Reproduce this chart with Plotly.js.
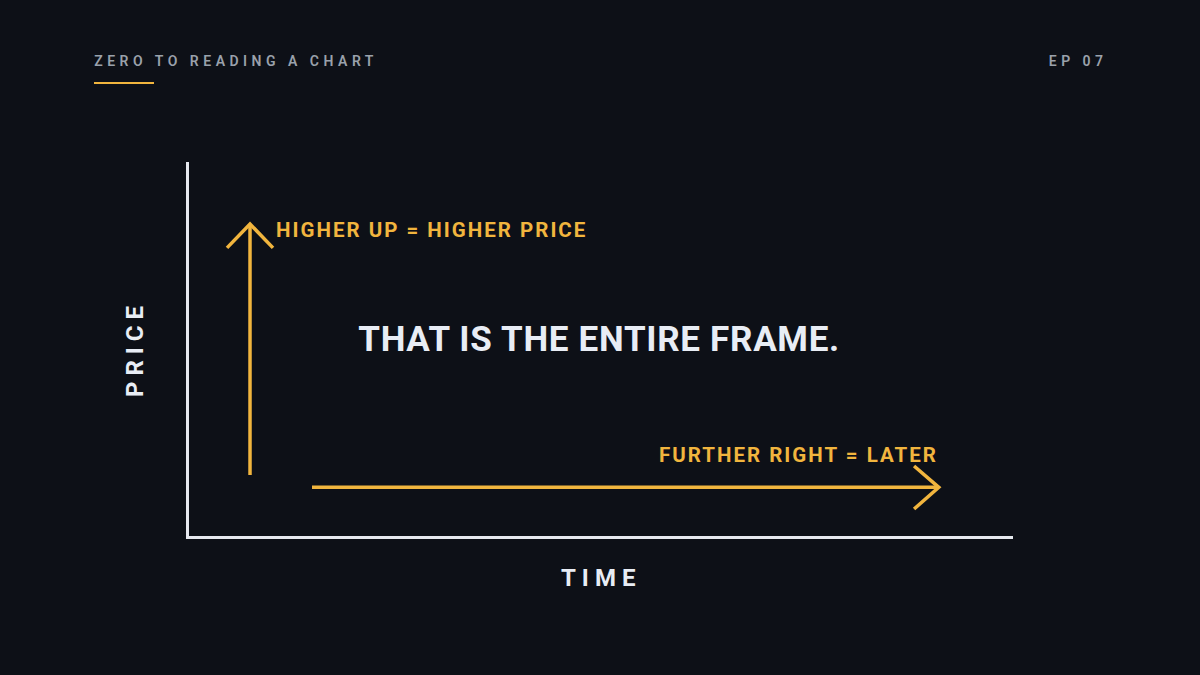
<!DOCTYPE html>
<html>
<head>
<meta charset="utf-8">
<script src="https://cdn.plot.ly/plotly-3.0.1.min.js"></script>
<style>
  html, body { margin: 0; padding: 0; background: #0d1017; }
  #chart { width: 1200px; height: 675px; }
  .annotation[data-index="0"] text, .annotation[data-index="1"] text { letter-spacing: 4.5px; }
  .annotation[data-index="2"] text, .annotation[data-index="3"] text { letter-spacing: 2px; }
  .annotation[data-index="4"] text { letter-spacing: 0.7px; }
  .annotation[data-index="5"] text, .annotation[data-index="6"] text { letter-spacing: 6px; }
</style>
</head>
<body>
<div id="chart"></div>
<script>
// frame runs 0..100 on both axes (time across, price up)
var upArrowX = [7.46, 7.46];
var upArrowY = [16.2, 83.4];
var upHeadX = [4.67, 7.46, 10.25];
var upHeadY = [77.0, 83.4, 77.0];

var rightArrowX = [14.98, 91.0];
var rightArrowY = [12.9, 12.9];
var rightHeadX = [88.0, 91.0, 88.0];
var rightHeadY = [18.6, 12.9, 7.1];

var labels = ['HIGHER UP = HIGHER PRICE', 'FURTHER RIGHT = LATER', 'THAT IS THE ENTIRE FRAME.'];
var axisNames = ['TIME', 'PRICE'];

var yellow = '#f1b53e';
var bg = '#0d1017';

function seg(x, y) {
    return {
        x: x,
        y: y,
        mode: 'lines',
        type: 'scatter',
        line: { color: yellow, width: 3.5 },
        hoverinfo: 'skip',
        showlegend: false
    };
}

var data = [
    seg(upArrowX, upArrowY),
    seg(upHeadX, upHeadY),
    seg(rightArrowX, rightArrowY),
    seg(rightHeadX, rightHeadY)
];

var font = 'Roboto, "DejaVu Sans", sans-serif';

// letter-spacing is added by css after plotly measures, so labels are placed by their centre
var layout = {
    width: 1200,
    height: 675,
    margin: { l: 0, r: 0, t: 0, b: 0 },
    paper_bgcolor: bg,
    plot_bgcolor: bg,
    showlegend: false,
    xaxis: {
        domain: [188.5 / 1200, 1013 / 1200],
        range: [0, 100],
        showgrid: false,
        zeroline: false,
        showticklabels: false,
        ticks: '',
        showline: true,
        linecolor: '#e6e9ef',
        linewidth: 3,
        fixedrange: true
    },
    yaxis: {
        domain: [1 - 535.5 / 675, 1 - 162 / 675],
        range: [0, 100],
        showgrid: false,
        zeroline: false,
        showticklabels: false,
        ticks: '',
        showline: true,
        linecolor: '#e6e9ef',
        linewidth: 3,
        fixedrange: true
    },
    shapes: [
        {
            type: 'line', xref: 'paper', yref: 'paper',
            x0: 94 / 1200, x1: 154 / 1200, y0: 1 - 83 / 675, y1: 1 - 83 / 675,
            line: { color: yellow, width: 2 }
        }
    ],
    annotations: [
        {
            text: 'ZERO TO READING A CHART', xref: 'paper', yref: 'paper',
            x: 236 / 1200, y: 1 - 61 / 675, xanchor: 'center', yanchor: 'middle',
            showarrow: false,
            font: { family: font, size: 14, color: '#9aa1ab', weight: 600 }
        },
        {
            text: 'EP 07', xref: 'paper', yref: 'paper',
            x: 1078 / 1200, y: 1 - 61 / 675, xanchor: 'center', yanchor: 'middle',
            showarrow: false,
            font: { family: font, size: 14, color: '#9aa1ab', weight: 600 }
        },
        {
            text: labels[0], xref: 'paper', yref: 'y',
            x: 432 / 1200, y: 81.7, xanchor: 'center', yanchor: 'middle',
            showarrow: false,
            font: { family: font, size: 20.5, color: yellow, weight: 700 }
        },
        {
            text: labels[1], xref: 'paper', yref: 'y',
            x: 798.5 / 1200, y: 21.5, xanchor: 'center', yanchor: 'middle',
            showarrow: false,
            font: { family: font, size: 20.5, color: yellow, weight: 700 }
        },
        {
            text: labels[2], xref: 'paper', yref: 'y',
            x: 599 / 1200, y: 52.6, xanchor: 'center', yanchor: 'middle',
            showarrow: false,
            font: { family: font, size: 35, color: '#e8edf5', weight: 700 }
        },
        {
            text: axisNames[0], xref: 'paper', yref: 'paper',
            x: 601 / 1200, y: 1 - 578 / 675, xanchor: 'center', yanchor: 'middle',
            showarrow: false,
            font: { family: font, size: 24, color: '#e8edf5', weight: 700 }
        },
        {
            text: axisNames[1], xref: 'paper', yref: 'paper',
            x: 135 / 1200, y: 1 - 349 / 675, xanchor: 'center', yanchor: 'middle',
            textangle: -90,
            showarrow: false,
            font: { family: font, size: 24, color: '#e8edf5', weight: 700 }
        }
    ]
};

Plotly.newPlot('chart', data, layout, { displayModeBar: false, staticPlot: true });
</script>
</body>
</html>
